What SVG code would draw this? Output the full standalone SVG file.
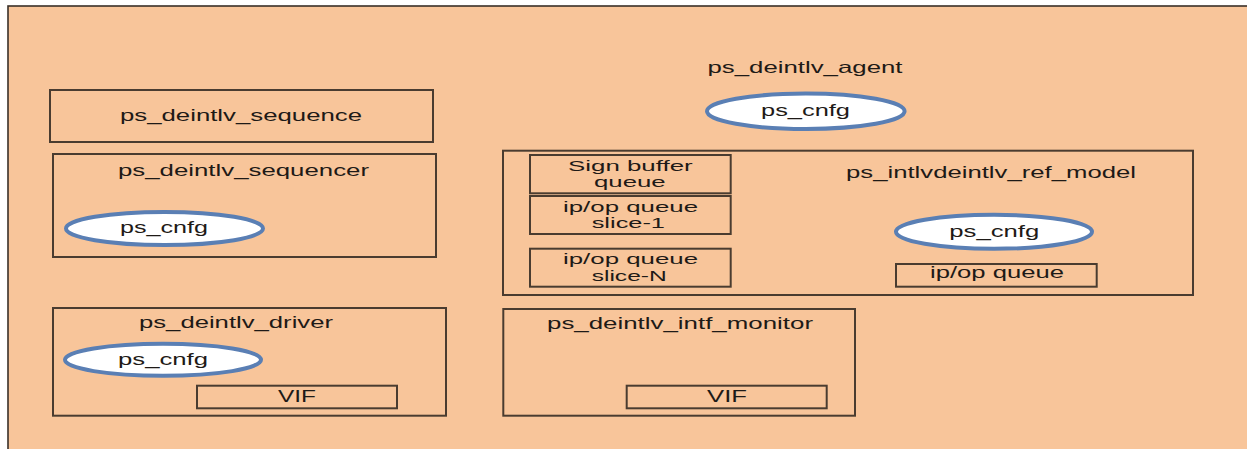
<svg xmlns="http://www.w3.org/2000/svg" width="1247" height="449" viewBox="0 0 1247 449">
  <style>
    .frame { fill: #F8C59A; stroke: #3a3028; stroke-width: 1.6; }
    .box { fill: none; stroke: #4a3c30; stroke-width: 2; }
    .cfg { fill: #ffffff; stroke: #5a7fb4; stroke-width: 4; }
    .lbl { font-family: "Liberation Sans", Arial, sans-serif; font-size: 16.5px; fill: #1e1a17; }
    .lbl.tight { font-size: 14.5px; }
  </style>

  <!-- page background and agent frame -->
  <rect x="0" y="0" width="1247" height="449" fill="#ffffff"/>
  <rect id="agent" class="frame" x="8" y="6" width="1250" height="450"/>

  <g id="agent-label">
    <text class="lbl" x="707.5" y="73" textLength="195" lengthAdjust="spacingAndGlyphs">ps_deintlv_agent</text>
  </g>
  <g id="agent-cfg">
    <ellipse class="cfg" cx="805.8" cy="111.3" rx="98.8" ry="17.7"/>
    <text class="lbl" x="761" y="116" textLength="89" lengthAdjust="spacingAndGlyphs">ps_cnfg</text>
  </g>

  <!-- sequence -->
  <g id="sequence">
    <rect class="box" x="50" y="90" width="383" height="52"/>
    <text class="lbl" x="120" y="120.5" textLength="242" lengthAdjust="spacingAndGlyphs">ps_deintlv_sequence</text>
  </g>

  <!-- sequencer -->
  <g id="sequencer">
    <rect class="box" x="53" y="154" width="383" height="103"/>
    <text class="lbl" x="118" y="175.5" textLength="251" lengthAdjust="spacingAndGlyphs">ps_deintlv_sequencer</text>
  </g>
  <g id="sequencer-cfg">
    <ellipse class="cfg" cx="164.5" cy="228.5" rx="98.5" ry="16.5"/>
    <text class="lbl" x="120" y="233" textLength="88" lengthAdjust="spacingAndGlyphs">ps_cnfg</text>
  </g>

  <!-- driver -->
  <g id="driver">
    <rect class="box" x="53" y="308" width="393" height="107.7"/>
    <text class="lbl" x="139" y="328" textLength="194" lengthAdjust="spacingAndGlyphs">ps_deintlv_driver</text>
  </g>
  <g id="driver-cfg">
    <ellipse class="cfg" cx="163" cy="359.8" rx="98" ry="16"/>
    <text class="lbl" x="118" y="365" textLength="90" lengthAdjust="spacingAndGlyphs">ps_cnfg</text>
  </g>
  <g id="driver-vif">
    <rect class="box" x="197" y="385.7" width="200" height="22.6"/>
    <text class="lbl" x="278" y="401.5" textLength="38" lengthAdjust="spacingAndGlyphs">VIF</text>
  </g>

  <!-- interface monitor -->
  <g id="monitor">
    <rect class="box" x="503.3" y="309" width="351.7" height="106.7"/>
    <text class="lbl" x="547" y="329" textLength="266" lengthAdjust="spacingAndGlyphs">ps_deintlv_intf_monitor</text>
  </g>
  <g id="monitor-vif">
    <rect class="box" x="626.7" y="385.7" width="200" height="22.6"/>
    <text class="lbl" x="707" y="401.5" textLength="40" lengthAdjust="spacingAndGlyphs">VIF</text>
  </g>

  <!-- reference model -->
  <g id="ref-model">
    <rect class="box" x="503" y="150.7" width="690" height="144.3"/>
    <text class="lbl" x="846" y="178" textLength="290" lengthAdjust="spacingAndGlyphs">ps_intlvdeintlv_ref_model</text>
  </g>
  <g id="sign-buffer-queue">
    <rect class="box" x="530" y="155" width="200.7" height="38.3"/>
    <text class="lbl tight" x="568" y="170.5" textLength="124.7" lengthAdjust="spacingAndGlyphs">Sign buffer</text>
    <text class="lbl tight" x="594" y="186.5" textLength="71.7" lengthAdjust="spacingAndGlyphs">queue</text>
  </g>
  <g id="queue-slice-1">
    <rect class="box" x="530" y="196" width="200.7" height="38"/>
    <text class="lbl tight" x="563" y="211.5" textLength="135" lengthAdjust="spacingAndGlyphs">ip/op queue</text>
    <text class="lbl tight" x="591.7" y="227.5" textLength="73.3" lengthAdjust="spacingAndGlyphs">slice-1</text>
  </g>
  <g id="queue-slice-n">
    <rect class="box" x="530" y="248.7" width="200.7" height="38"/>
    <text class="lbl tight" x="563" y="264" textLength="135" lengthAdjust="spacingAndGlyphs">ip/op queue</text>
    <text class="lbl tight" x="591.7" y="280.5" textLength="75" lengthAdjust="spacingAndGlyphs">slice-N</text>
  </g>
  <g id="ref-cfg">
    <ellipse class="cfg" cx="994" cy="231.8" rx="98" ry="17"/>
    <text class="lbl" x="949.3" y="236.7" textLength="90" lengthAdjust="spacingAndGlyphs">ps_cnfg</text>
  </g>
  <g id="ref-queue">
    <rect class="box" x="896" y="264" width="200.7" height="22.7"/>
    <text class="lbl" x="930" y="278" textLength="134" lengthAdjust="spacingAndGlyphs">ip/op queue</text>
  </g>

  <g id="connectors"/>
</svg>
